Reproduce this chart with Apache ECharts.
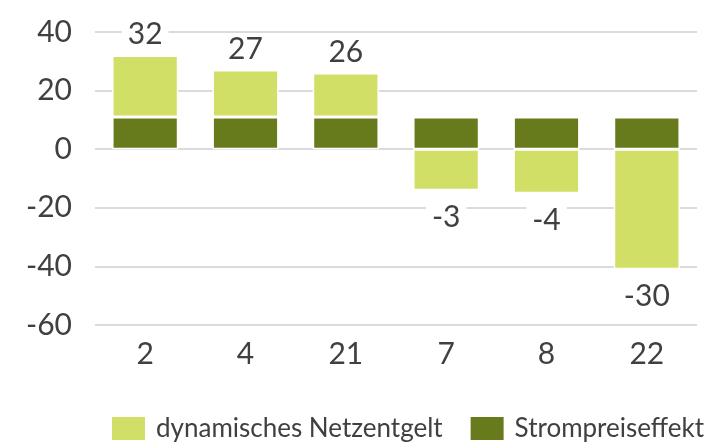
<!DOCTYPE html>
<html>
<head>
<meta charset="utf-8">
<script src="https://cdn.jsdelivr.net/npm/echarts@6/dist/echarts.min.js"></script>
<style>
  html, body { margin: 0; padding: 0; background: #fff; }
  #chart { width: 718px; height: 447px; }
</style>
</head>
<body>
<div id="chart"></div>
<script>
// Kategorien und Werte
const categories = ['2', '4', '21', '7', '8', '22'];
const netzentgelt = [21, 16, 15, -14, -15, -41];
const strompreis = [11, 11, 11, 11, 11, 11];
const yTicks = { min: -60, max: 40, step: 20 };

const LIGHT = '#d2df66';
const DARK = '#677b1c';
const TEXT = '#404040';
const FONT = 'Lato, "Open Sans", sans-serif';

// Summe je Kategorie als Beschriftung am Ende des Balkens
const lightData = netzentgelt.map((v, i) => {
  const total = v + strompreis[i];
  const positive = v >= 0;
  return {
    value: v,
    label: {
      show: true,
      position: positive ? 'top' : 'bottom',
      distance: positive ? 6 : 12,
      formatter: String(total)
    }
  };
});

const chart = echarts.init(document.getElementById('chart'), null, { renderer: 'canvas' });
chart.setOption({
  animation: false,
  backgroundColor: '#fff',
  textStyle: { fontFamily: FONT },
  grid: { left: 95, right: 21, top: 32, bottom: 122, containLabel: false },
  legend: {
    data: ['dynamisches Netzentgelt', 'Strompreiseffekt'],
    left: 105,
    top: 410,
    itemWidth: 35,
    itemHeight: 25,
    itemGap: 26,
    icon: 'rect',
    textStyle: { fontFamily: FONT, fontSize: 26, color: TEXT, padding: [0, 0, 0, 5] }
  },
  xAxis: {
    type: 'category',
    data: categories,
    axisLine: { show: false, onZero: false },
    axisTick: { show: false },
    axisLabel: { color: TEXT, fontSize: 30, fontFamily: FONT, margin: 14 }
  },
  yAxis: {
    type: 'value',
    min: yTicks.min,
    max: yTicks.max,
    interval: yTicks.step,
    axisLine: { show: false },
    axisTick: { show: false },
    axisLabel: { color: TEXT, fontSize: 30, fontFamily: FONT, margin: 23 },
    splitLine: { lineStyle: { color: '#cfcfcf', width: 1.5 } }
  },
  series: [
    {
      name: 'Strompreiseffekt',
      type: 'bar',
      stack: 'gesamt',
      barWidth: '66%',
      data: strompreis,
      itemStyle: { color: DARK, borderColor: '#fff', borderWidth: 1.5 },
      z: 2
    },
    {
      name: 'dynamisches Netzentgelt',
      type: 'bar',
      stack: 'gesamt',
      barWidth: '66%',
      data: lightData,
      itemStyle: { color: LIGHT, borderColor: '#fff', borderWidth: 1.5 },
      label: {
        color: TEXT,
        fontSize: 30,
        fontFamily: FONT,
        backgroundColor: '#fff',
        padding: [0, 6, 0, 6]
      },
      z: 2
    }
  ]
});
</script>
</body>
</html>
